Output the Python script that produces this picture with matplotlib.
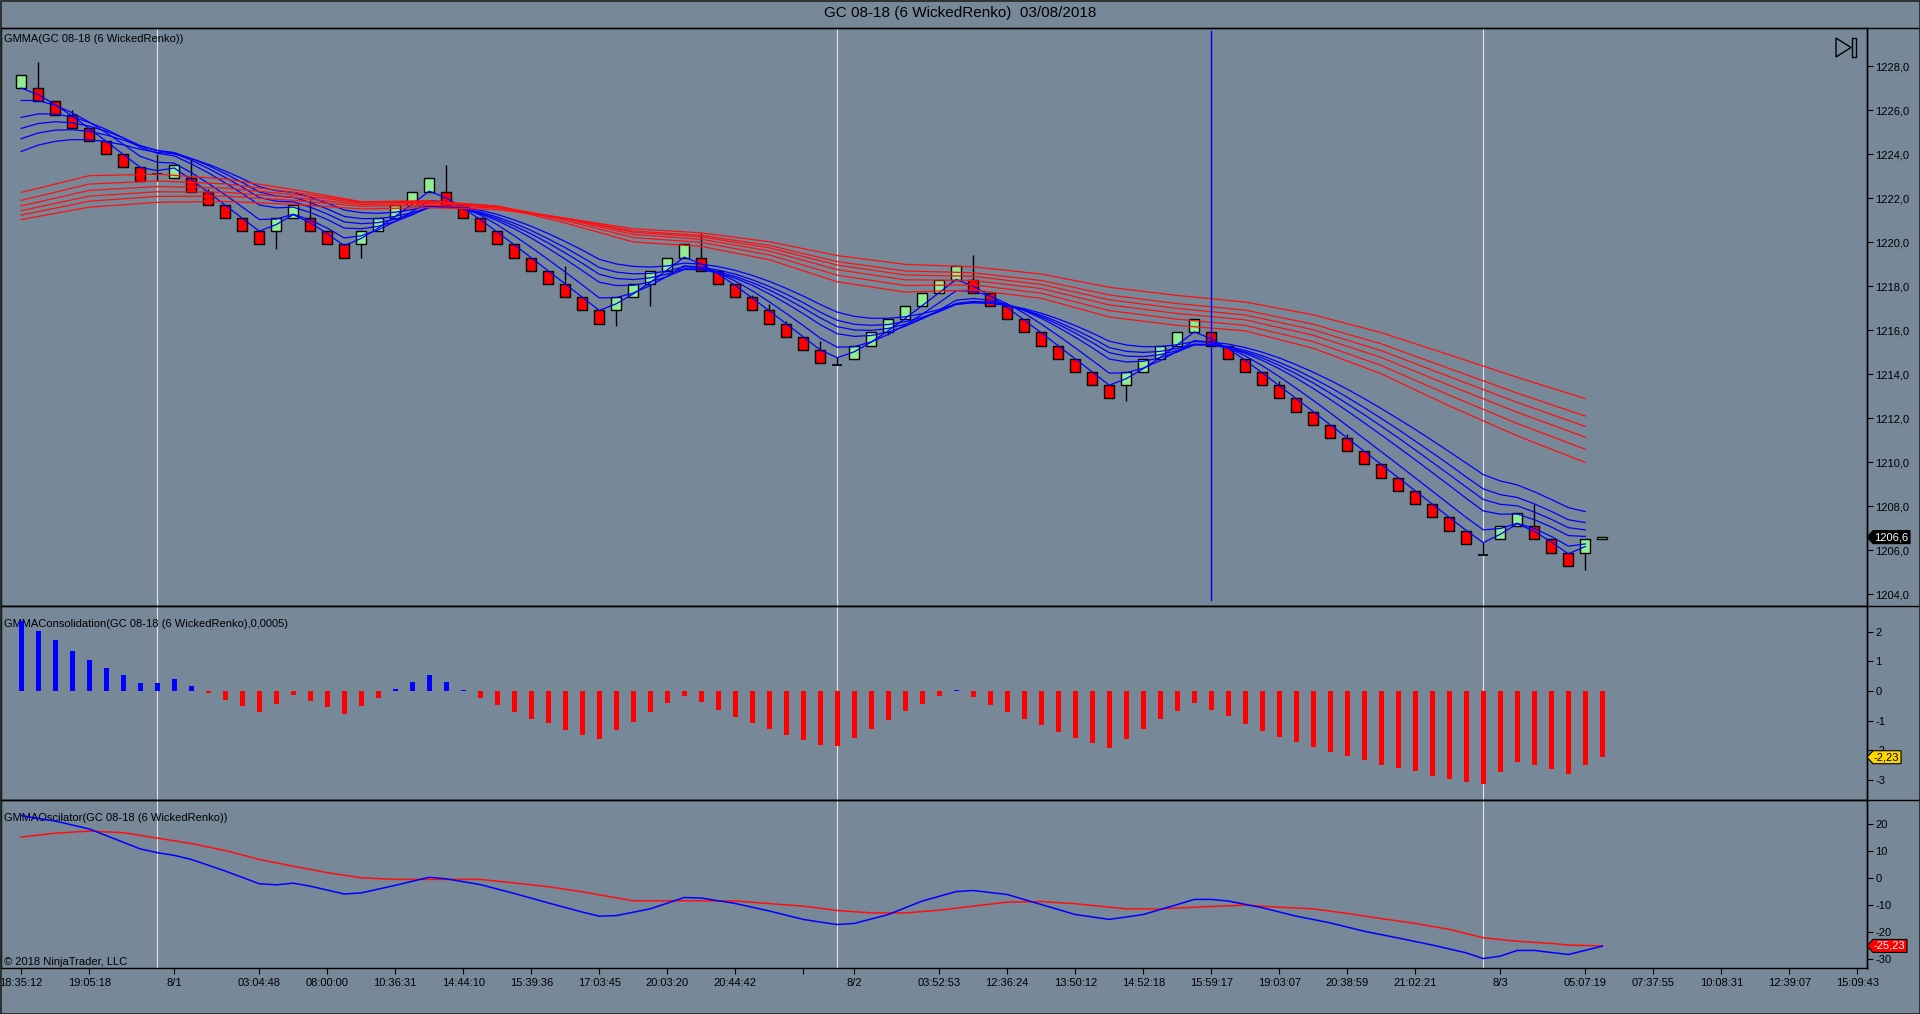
import matplotlib
matplotlib.use('Agg')
import matplotlib.pyplot as plt
from matplotlib.patches import Polygon
from matplotlib.lines import Line2D
from matplotlib.transforms import IdentityTransform
import numpy as np

plt.rcParams['font.family'] = ['Liberation Sans', 'DejaVu Sans']

# ---- renko bricks (bar index 0..93, 93 = forming bar) ----
opens = [
    1227.0, 1227.0, 1226.4, 1225.8, 1225.2, 1224.6, 1224.0, 1223.4, 1223.1, 1222.9,
    1222.9, 1222.3, 1221.7, 1221.1, 1220.5, 1220.5, 1221.1, 1221.1, 1220.5, 1219.9,
    1219.9, 1220.5, 1221.1, 1221.7, 1222.3, 1222.3, 1221.7, 1221.1, 1220.5, 1219.9,
    1219.3, 1218.7, 1218.1, 1217.5, 1216.9, 1216.9, 1217.5, 1218.1, 1218.7, 1219.3,
    1219.3, 1218.7, 1218.1, 1217.5, 1216.9, 1216.3, 1215.7, 1215.1, 1214.4, 1214.7,
    1215.3, 1215.9, 1216.5, 1217.1, 1217.7, 1218.3, 1218.3, 1217.7, 1217.1, 1216.5,
    1215.9, 1215.3, 1214.7, 1214.1, 1213.5, 1213.5, 1214.1, 1214.7, 1215.3, 1215.9,
    1215.9, 1215.3, 1214.7, 1214.1, 1213.5, 1212.9, 1212.3, 1211.7, 1211.1, 1210.5,
    1209.9, 1209.3, 1208.7, 1208.1, 1207.5, 1206.9, 1205.8, 1206.5, 1207.1, 1207.1,
    1206.5, 1205.9, 1205.9, 1206.5]
closes = [
    1227.6, 1226.4, 1225.8, 1225.2, 1224.6, 1224.0, 1223.4, 1222.8, 1223.1, 1223.5,
    1222.3, 1221.7, 1221.1, 1220.5, 1219.9, 1221.1, 1221.7, 1220.5, 1219.9, 1219.3,
    1220.5, 1221.1, 1221.7, 1222.3, 1222.9, 1221.7, 1221.1, 1220.5, 1219.9, 1219.3,
    1218.7, 1218.1, 1217.5, 1216.9, 1216.3, 1217.5, 1218.1, 1218.7, 1219.3, 1219.9,
    1218.7, 1218.1, 1217.5, 1216.9, 1216.3, 1215.7, 1215.1, 1214.5, 1214.4, 1215.3,
    1215.9, 1216.5, 1217.1, 1217.7, 1218.3, 1218.9, 1217.7, 1217.1, 1216.5, 1215.9,
    1215.3, 1214.7, 1214.1, 1213.5, 1212.9, 1214.1, 1214.7, 1215.3, 1215.9, 1216.5,
    1215.3, 1214.7, 1214.1, 1213.5, 1212.9, 1212.3, 1211.7, 1211.1, 1210.5, 1209.9,
    1209.3, 1208.7, 1208.1, 1207.5, 1206.9, 1206.3, 1205.8, 1207.1, 1207.7, 1206.5,
    1205.9, 1205.3, 1206.5, 1206.6]
highs = [
    1227.6, 1228.2, 1226.4, 1226.0, 1225.2, 1224.6, 1224.0, 1223.4, 1224.0, 1223.5,
    1223.8, 1222.4, 1221.7, 1221.1, 1220.5, 1221.1, 1221.7, 1221.9, 1220.5, 1219.9,
    1220.5, 1221.1, 1221.7, 1222.3, 1222.9, 1223.5, 1221.7, 1221.1, 1220.5, 1219.9,
    1219.3, 1218.7, 1218.9, 1217.5, 1216.9, 1217.5, 1218.1, 1218.7, 1219.3, 1219.9,
    1220.4, 1218.7, 1218.1, 1217.6, 1217.2, 1216.4, 1215.7, 1215.5, 1214.8, 1215.3,
    1215.9, 1216.5, 1217.1, 1217.7, 1218.3, 1218.9, 1219.4, 1217.7, 1217.1, 1216.5,
    1215.9, 1215.3, 1214.7, 1214.1, 1213.5, 1214.1, 1214.7, 1215.3, 1215.9, 1216.5,
    1215.9, 1215.3, 1214.7, 1214.1, 1213.7, 1212.9, 1212.3, 1211.7, 1211.3, 1210.5,
    1209.9, 1209.3, 1208.7, 1208.1, 1207.5, 1206.9, 1206.4, 1207.1, 1207.7, 1208.1,
    1206.5, 1205.9, 1206.5, 1206.6]
lows = [
    1227.0, 1226.4, 1225.8, 1225.2, 1224.6, 1224.0, 1223.4, 1222.8, 1222.8, 1222.9,
    1222.3, 1221.7, 1221.1, 1220.5, 1219.9, 1219.7, 1221.1, 1220.5, 1219.9, 1219.3,
    1219.3, 1220.5, 1221.1, 1221.7, 1222.3, 1221.7, 1221.1, 1220.5, 1219.9, 1219.3,
    1218.7, 1218.1, 1217.5, 1216.9, 1216.3, 1216.2, 1217.5, 1217.1, 1218.7, 1219.3,
    1218.7, 1218.1, 1217.5, 1216.9, 1216.3, 1215.7, 1215.1, 1214.5, 1214.4, 1214.7,
    1215.3, 1215.8, 1216.5, 1217.1, 1217.7, 1218.3, 1217.7, 1217.1, 1216.5, 1215.9,
    1215.3, 1214.7, 1214.1, 1213.5, 1212.9, 1212.8, 1214.1, 1214.7, 1215.3, 1215.9,
    1215.3, 1214.7, 1214.1, 1213.5, 1212.9, 1212.3, 1211.7, 1211.1, 1210.5, 1209.9,
    1209.3, 1208.7, 1208.1, 1207.5, 1206.9, 1206.3, 1205.8, 1206.5, 1207.1, 1206.5,
    1205.9, 1205.3, 1205.1, 1206.5]

# ---- GMMA short group (blue), one value per closed bar 0..92 ----
ema3 = [
    1227.00, 1226.70, 1226.25, 1225.73, 1225.16, 1224.58, 1223.99, 1223.40, 1223.25, 1223.37,
    1222.84, 1222.27, 1221.68, 1221.09, 1220.50, 1220.80, 1221.25, 1220.88, 1220.39, 1219.84,
    1220.17, 1220.64, 1221.17, 1221.73, 1222.32, 1222.01, 1221.55, 1221.03, 1220.46, 1219.88,
    1219.29, 1218.70, 1218.10, 1217.50, 1216.90, 1217.20, 1217.65, 1218.17, 1218.74, 1219.32,
    1219.01, 1218.56, 1218.03, 1217.46, 1216.88, 1216.29, 1215.70, 1215.10, 1214.75, 1215.02,
    1215.46, 1215.98, 1216.54, 1217.12, 1217.71, 1218.31, 1218.00, 1217.55, 1217.03, 1216.46,
    1215.88, 1215.29, 1214.70, 1214.10, 1213.50, 1213.80, 1214.25, 1214.77, 1215.34, 1215.92,
    1215.61, 1215.16, 1214.63, 1214.06, 1213.48, 1212.89, 1212.30, 1211.70, 1211.10, 1210.50,
    1209.90, 1209.30, 1208.70, 1208.10, 1207.50, 1206.90, 1206.35, 1206.73, 1207.21, 1206.86,
    1206.38, 1205.84, 1206.17]
ema5 = [
    1226.44, 1226.43, 1226.22, 1225.88, 1225.45, 1224.97, 1224.45, 1223.90, 1223.63, 1223.59,
    1223.16, 1222.67, 1222.15, 1221.60, 1221.03, 1221.05, 1221.27, 1221.01, 1220.64, 1220.19,
    1220.29, 1220.56, 1220.94, 1221.39, 1221.89, 1221.83, 1221.59, 1221.23, 1220.79, 1220.29,
    1219.76, 1219.21, 1218.64, 1218.06, 1217.47, 1217.48, 1217.69, 1218.03, 1218.45, 1218.93,
    1218.85, 1218.60, 1218.23, 1217.79, 1217.29, 1216.76, 1216.21, 1215.64, 1215.23, 1215.25,
    1215.47, 1215.81, 1216.24, 1216.73, 1217.25, 1217.80, 1217.77, 1217.55, 1217.20, 1216.77,
    1216.28, 1215.75, 1215.20, 1214.63, 1214.05, 1214.07, 1214.28, 1214.62, 1215.05, 1215.53,
    1215.45, 1215.20, 1214.83, 1214.39, 1213.89, 1213.36, 1212.81, 1212.24, 1211.66, 1211.07,
    1210.48, 1209.89, 1209.29, 1208.69, 1208.09, 1207.49, 1206.93, 1206.99, 1207.23, 1206.99,
    1206.63, 1206.19, 1206.29]
ema8 = [
    1225.67, 1225.83, 1225.82, 1225.69, 1225.44, 1225.12, 1224.74, 1224.31, 1224.04, 1223.92,
    1223.56, 1223.15, 1222.69, 1222.21, 1221.69, 1221.56, 1221.59, 1221.35, 1221.03, 1220.64,
    1220.61, 1220.72, 1220.94, 1221.24, 1221.61, 1221.63, 1221.51, 1221.29, 1220.98, 1220.61,
    1220.19, 1219.72, 1219.23, 1218.71, 1218.18, 1218.03, 1218.04, 1218.19, 1218.44, 1218.76,
    1218.75, 1218.60, 1218.36, 1218.04, 1217.65, 1217.22, 1216.75, 1216.25, 1215.84, 1215.72,
    1215.76, 1215.92, 1216.18, 1216.52, 1216.92, 1217.36, 1217.44, 1217.36, 1217.17, 1216.89,
    1216.54, 1216.13, 1215.68, 1215.20, 1214.69, 1214.56, 1214.59, 1214.75, 1215.01, 1215.34,
    1215.33, 1215.19, 1214.95, 1214.63, 1214.25, 1213.82, 1213.35, 1212.85, 1212.33, 1211.79,
    1211.24, 1210.68, 1210.11, 1209.53, 1208.95, 1208.36, 1207.79, 1207.64, 1207.65, 1207.39,
    1207.06, 1206.67, 1206.63]
ema10 = [
    1225.17, 1225.39, 1225.47, 1225.42, 1225.27, 1225.04, 1224.74, 1224.39, 1224.16, 1224.04,
    1223.72, 1223.35, 1222.94, 1222.50, 1222.03, 1221.86, 1221.83, 1221.59, 1221.28, 1220.92,
    1220.84, 1220.89, 1221.04, 1221.27, 1221.57, 1221.59, 1221.50, 1221.32, 1221.06, 1220.74,
    1220.37, 1219.96, 1219.51, 1219.04, 1218.54, 1218.35, 1218.30, 1218.38, 1218.55, 1218.79,
    1218.78, 1218.65, 1218.44, 1218.16, 1217.83, 1217.44, 1217.01, 1216.56, 1216.16, 1216.01,
    1215.99, 1216.08, 1216.27, 1216.53, 1216.85, 1217.22, 1217.31, 1217.27, 1217.13, 1216.91,
    1216.61, 1216.27, 1215.87, 1215.44, 1214.98, 1214.82, 1214.80, 1214.89, 1215.07, 1215.33,
    1215.33, 1215.21, 1215.01, 1214.74, 1214.40, 1214.02, 1213.60, 1213.14, 1212.66, 1212.16,
    1211.64, 1211.11, 1210.56, 1210.00, 1209.44, 1208.87, 1208.31, 1208.09, 1208.02, 1207.74,
    1207.41, 1207.03, 1206.93]
ema12 = [
    1224.70, 1224.96, 1225.09, 1225.11, 1225.03, 1224.87, 1224.64, 1224.36, 1224.17, 1224.07,
    1223.80, 1223.48, 1223.11, 1222.71, 1222.28, 1222.10, 1222.04, 1221.80, 1221.51, 1221.17,
    1221.07, 1221.07, 1221.17, 1221.34, 1221.58, 1221.60, 1221.52, 1221.37, 1221.14, 1220.86,
    1220.53, 1220.15, 1219.75, 1219.31, 1218.85, 1218.64, 1218.56, 1218.58, 1218.69, 1218.88,
    1218.85, 1218.73, 1218.55, 1218.29, 1217.99, 1217.64, 1217.25, 1216.82, 1216.45, 1216.27,
    1216.22, 1216.26, 1216.39, 1216.59, 1216.85, 1217.17, 1217.25, 1217.23, 1217.11, 1216.93,
    1216.68, 1216.37, 1216.02, 1215.64, 1215.21, 1215.04, 1214.99, 1215.04, 1215.17, 1215.37,
    1215.36, 1215.26, 1215.08, 1214.84, 1214.54, 1214.20, 1213.81, 1213.40, 1212.95, 1212.48,
    1211.99, 1211.49, 1210.96, 1210.43, 1209.89, 1209.33, 1208.79, 1208.53, 1208.40, 1208.11,
    1207.77, 1207.39, 1207.26]
ema15 = [
    1224.12, 1224.41, 1224.58, 1224.66, 1224.65, 1224.57, 1224.42, 1224.22, 1224.08, 1224.01,
    1223.80, 1223.54, 1223.23, 1222.89, 1222.52, 1222.34, 1222.26, 1222.04, 1221.77, 1221.46,
    1221.34, 1221.31, 1221.36, 1221.48, 1221.66, 1221.66, 1221.59, 1221.45, 1221.26, 1221.01,
    1220.72, 1220.39, 1220.03, 1219.64, 1219.22, 1219.01, 1218.90, 1218.87, 1218.92, 1219.05,
    1219.00, 1218.89, 1218.72, 1218.49, 1218.22, 1217.90, 1217.55, 1217.17, 1216.82, 1216.63,
    1216.54, 1216.54, 1216.61, 1216.75, 1216.94, 1217.19, 1217.25, 1217.23, 1217.14, 1216.98,
    1216.77, 1216.51, 1216.21, 1215.87, 1215.50, 1215.33, 1215.25, 1215.26, 1215.34, 1215.48,
    1215.46, 1215.37, 1215.21, 1215.00, 1214.74, 1214.43, 1214.09, 1213.72, 1213.32, 1212.89,
    1212.44, 1211.97, 1211.49, 1210.99, 1210.48, 1209.96, 1209.44, 1209.15, 1208.97, 1208.66,
    1208.31, 1207.94, 1207.76]

# ---- GMMA long group (red), read every 4 bars ----
long_bars = [0, 4, 8, 12, 16, 20, 24, 28, 32, 36, 40, 44, 48, 52, 56, 60, 64, 68, 72, 76, 80, 84, 88, 92]
ema30 = [1222.26, 1223.02, 1223.09, 1222.87, 1222.39, 1221.84, 1221.88, 1221.63, 1220.87, 1220.01, 1219.81, 1219.20,
         1218.20, 1217.73, 1217.83, 1217.45, 1216.60, 1216.22, 1215.97, 1215.18, 1214.02, 1212.56, 1211.20, 1209.99]
ema35 = [1221.90, 1222.64, 1222.78, 1222.65, 1222.27, 1221.82, 1221.86, 1221.64, 1220.98, 1220.21, 1219.99, 1219.42,
         1218.50, 1218.03, 1218.06, 1217.68, 1216.89, 1216.50, 1216.22, 1215.48, 1214.40, 1213.05, 1211.76, 1210.59]
ema40 = [1221.65, 1222.35, 1222.53, 1222.46, 1222.16, 1221.78, 1221.82, 1221.63, 1221.05, 1220.35, 1220.13, 1219.60,
         1218.75, 1218.29, 1218.26, 1217.89, 1217.15, 1216.76, 1216.47, 1215.77, 1214.76, 1213.50, 1212.27, 1211.14]
ema45 = [1221.43, 1222.09, 1222.29, 1222.27, 1222.03, 1221.71, 1221.76, 1221.60, 1221.08, 1220.45, 1220.24, 1219.74,
         1218.96, 1218.51, 1218.45, 1218.08, 1217.38, 1216.99, 1216.69, 1216.02, 1215.07, 1213.89, 1212.72, 1211.63]
ema50 = [1221.23, 1221.86, 1222.08, 1222.09, 1221.90, 1221.63, 1221.68, 1221.55, 1221.09, 1220.51, 1220.31, 1219.85,
         1219.12, 1218.69, 1218.61, 1218.26, 1217.60, 1217.21, 1216.91, 1216.27, 1215.38, 1214.26, 1213.14, 1212.10]
ema60 = [1221.03, 1221.59, 1221.81, 1221.85, 1221.72, 1221.51, 1221.57, 1221.48, 1221.09, 1220.61, 1220.42, 1220.02,
         1219.39, 1218.99, 1218.88, 1218.55, 1217.95, 1217.58, 1217.28, 1216.70, 1215.89, 1214.88, 1213.86, 1212.89]

# ---- GMMAConsolidation histogram, bars 0..93 ----
consolidation = [
    2.35, 2.02, 1.70, 1.35, 1.04, 0.77, 0.54, 0.27, 0.26, 0.40,
    0.18, -0.08, -0.30, -0.51, -0.71, -0.44, -0.15, -0.34, -0.54, -0.76,
    -0.51, -0.22, 0.07, 0.30, 0.55, 0.30, 0.02, -0.24, -0.48, -0.71,
    -0.93, -1.09, -1.31, -1.47, -1.63, -1.33, -1.03, -0.71, -0.42, -0.17,
    -0.37, -0.65, -0.89, -1.09, -1.29, -1.48, -1.66, -1.83, -1.86, -1.59,
    -1.29, -0.99, -0.69, -0.44, -0.18, 0.02, -0.20, -0.48, -0.72, -0.95,
    -1.16, -1.37, -1.57, -1.74, -1.91, -1.61, -1.27, -0.95, -0.69, -0.42,
    -0.63, -0.84, -1.10, -1.34, -1.54, -1.71, -1.88, -2.04, -2.19, -2.31,
    -2.48, -2.58, -2.71, -2.86, -2.95, -3.05, -3.14, -2.74, -2.39, -2.49,
    -2.64, -2.79, -2.48, -2.23]

# ---- GMMAOscilator lines ----
osc_blue_bars = [0, 2, 4, 7, 8, 9, 10, 12, 14, 15, 16, 17, 19, 20, 22, 24, 25, 27, 29, 31, 33, 34, 35, 37,
                 39, 40, 42, 44, 46, 47, 48, 49, 51, 53, 55, 56, 58, 60, 62, 64, 66, 68, 69, 70, 71, 73,
                 75, 77, 79, 81, 83, 85, 86, 87, 88, 89, 91, 93]
osc_blue = [23.0, 21.0, 18.1, 10.7, 9.3, 8.3, 6.8, 2.5, -2.2, -2.6, -2.0, -3.1, -6.0, -5.6, -2.8, 0.2, -0.4, -2.5,
            -5.8, -9.3, -12.7, -14.2, -14.0, -11.5, -7.3, -7.5, -9.5, -12.3, -15.4, -16.4, -17.3, -16.9, -13.6,
            -8.6, -5.1, -4.7, -6.2, -9.9, -13.6, -15.4, -13.6, -9.9, -8.0, -8.0, -8.6, -11.1, -14.2, -16.7,
            -19.8, -22.3, -24.9, -27.8, -29.9, -29.0, -26.9, -26.9, -28.4, -25.3]
osc_red_bars = [0, 2, 4, 6, 8, 10, 12, 14, 16, 18, 20, 22, 24, 27, 29, 31, 33, 36, 39, 42, 46, 48, 50, 52, 54,
                56, 58, 60, 62, 65, 67, 69, 72, 74, 76, 78, 80, 82, 84, 86, 88, 90, 91, 93]
osc_red = [15.1, 16.5, 17.3, 16.7, 14.7, 12.7, 10.1, 6.8, 4.3, 1.9, 0.0, -0.6, -0.6, -0.6, -1.9, -3.3, -5.2,
           -8.5, -8.5, -8.6, -10.5, -12.1, -13.0, -13.0, -12.0, -10.5, -9.0, -8.8, -9.6, -11.5, -11.5, -10.9,
           -10.1, -10.9, -11.5, -13.2, -15.1, -16.9, -19.1, -22.2, -23.5, -24.3, -24.9, -25.23]

# ---- axis labels ----
session_bars = [8, 48, 86]
line_bar = 70
xtick_bars = [0, 4, 9, 14, 18, 22, 26, 30, 34, 38, 42, 46, 49, 54, 58, 62, 66, 70, 74, 78, 82, 87, 92,
              96, 100, 104, 108]
xtick_labels = ['18:35:12', '19:05:18', '8/1', '03:04:48', '08:00:00', '10:36:31', '14:44:10', '15:39:36',
                '17:03:45', '20:03:20', '20:44:42', '', '8/2', '03:52:53', '12:36:24', '13:50:12', '14:52:18',
                '15:59:17', '19:03:07', '20:38:59', '21:02:21', '8/3', '05:07:19', '07:37:55', '10:08:31',
                '12:39:07', '15:09:43']
price_ticks = [1204, 1206, 1208, 1210, 1212, 1214, 1216, 1218, 1220, 1222, 1224, 1226, 1228]
cons_ticks = [2, 1, 0, -1, -2, -3]
osc_ticks = [20, 10, 0, -10, -20, -30]

W, H = 1920, 1014
BG = '#778899'
fig = plt.figure(figsize=(W / 100, H / 100), dpi=100, facecolor=BG)


def panel(top, bottom):
    a = fig.add_axes([1 / W, 1 - bottom / H, 1866 / W, (bottom - top) / H])
    a.set_facecolor(BG)
    a.set_xlim(-1.19, 108.57)
    for s in a.spines.values():
        s.set_color('black')
        s.set_linewidth(1)
    a.yaxis.tick_right()
    a.tick_params(axis='y', direction='out', length=4, pad=2, labelsize=8, colors='black')
    return a


ax1 = panel(28, 606)
ax2 = panel(606, 800)
ax3 = panel(800, 968)
ax1.set_ylim(1203.47, 1229.73)
ax2.set_ylim(-3.67, 2.86)
ax3.set_ylim(-33.4, 28.8)

# main price panel
bars = np.arange(len(opens))
o = np.array(opens)
c = np.array(closes)
ax1.vlines(bars, lows, highs, color='black', lw=1, zorder=2)
body = o != c
cols = np.where(c > o, '#90EE90', '#FF0000')
ax1.bar(bars[body], (c - o)[body], bottom=o[body], width=0.6, color=cols[body],
        edgecolor='black', linewidth=1, zorder=3)
doji = ~body
ax1.hlines(o[doji], bars[doji] - 0.3, bars[doji] + 0.3, color='black', lw=1.2, zorder=3)

closed = np.arange(len(ema3))
for e in [ema3, ema5, ema8, ema10, ema12, ema15]:
    ax1.plot(closed, e, color='#0000FF', lw=0.9, zorder=4)
for e in [ema30, ema35, ema40, ema45, ema50, ema60]:
    ax1.plot(long_bars, e, color='#FF1010', lw=0.9, zorder=4)

ax1.axvline(line_bar, ymin=0.01, ymax=0.995, color='#0000FF', lw=1, zorder=5)
ax1.set_yticks(price_ticks)
ax1.set_yticklabels([f'{v:.1f}'.replace('.', ',') for v in price_ticks])
ax1.set_xticks([])
ax1.text(3 / 1866, 1 - 11 / 578, 'GMMA(GC 08-18 (6 WickedRenko))', transform=ax1.transAxes,
         fontsize=8, va='center', ha='left')

# consolidation panel
cv = np.array(consolidation)
ax2.bar(np.arange(len(cv)), cv, width=0.3, color=np.where(cv > 0, '#0000FF', '#FF0000'), zorder=3)
ax2.set_yticks(cons_ticks)
ax2.set_yticklabels([str(v) for v in cons_ticks])
ax2.set_xticks([])
ax2.text(3 / 1866, 1 - 18 / 194, 'GMMAConsolidation(GC 08-18 (6 WickedRenko),0,0005)',
         transform=ax2.transAxes, fontsize=8, va='center', ha='left', zorder=2)

# oscillator panel
ax3.plot(osc_red_bars, osc_red, color='#FF1010', lw=1.1, zorder=3)
ax3.plot(osc_blue_bars, osc_blue, color='#0000FF', lw=1.1, zorder=4)
ax3.set_yticks(osc_ticks)
ax3.set_yticklabels([str(v) for v in osc_ticks])
ax3.set_xticks(xtick_bars)
ax3.set_xticklabels(xtick_labels)
ax3.tick_params(axis='x', direction='out', length=4, pad=3, labelsize=8, colors='black')
ax3.text(3 / 1866, 1 - 18 / 168, 'GMMAOscilator(GC 08-18 (6 WickedRenko))', transform=ax3.transAxes,
         fontsize=8, va='center', ha='left')
ax3.text(3 / 1866, 6 / 168, '\u00a9 2018 NinjaTrader, LLC', transform=ax3.transAxes,
         fontsize=8, va='center', ha='left')

for a in (ax1, ax2, ax3):
    for b in session_bars:
        a.axvline(b, color='#E6E6E6', lw=0.8, zorder=1)

# frame lines across the whole width
for y in (28, 606, 800):
    fig.add_artist(Line2D([0, 1], [1 - y / H] * 2, color='black', lw=1, transform=fig.transFigure))
fig.add_artist(Line2D([1867 / W] * 2, [1 - 28 / H, 1 - 968 / H], color='black', lw=1, transform=fig.transFigure))
fig.add_artist(Line2D([0.5 / W, 1 - 0.5 / W, 1 - 0.5 / W, 0.5 / W, 0.5 / W],
                      [0.5 / H, 0.5 / H, 1 - 0.5 / H, 1 - 0.5 / H, 0.5 / H],
                      color='#222222', lw=1.2, transform=fig.transFigure))

fig.text(0.5, 1 - 13 / H, 'GC 08-18 (6 WickedRenko)  03/08/2018', ha='center', va='center', fontsize=11)


def price_marker(ax, val, label, fc, tc, w):
    yd = ax.transData.transform((0, val))[1]
    x0 = 1867
    h = 6.5
    verts = [(x0, yd), (x0 + 6, yd + h), (x0 + w, yd + h), (x0 + w, yd - h), (x0 + 6, yd - h)]
    fig.add_artist(Polygon(verts, closed=True, fc=fc, ec='black', lw=0.8,
                           transform=IdentityTransform(), zorder=10))
    fig.text(x0 + 7, yd, label, color=tc, fontsize=8, va='center', ha='left',
             transform=IdentityTransform(), zorder=11)


price_marker(ax1, closes[-1], f'{closes[-1]:.1f}'.replace('.', ','), 'black', 'white', 43)
price_marker(ax2, consolidation[-1], f'{consolidation[-1]:.2f}'.replace('.', ','), '#FFD700', 'black', 34)
price_marker(ax3, osc_red[-1], f'{osc_red[-1]:.2f}'.replace('.', ','), '#FF0000', 'white', 40)

# "go to last bar" button in the top right corner
tri = [(1836, H - 38), (1836, H - 57), (1851, H - 47.5)]
fig.add_artist(Polygon(tri, closed=True, fill=False, ec='black', lw=1, transform=IdentityTransform()))
fig.add_artist(Polygon([(1852, H - 38), (1856, H - 38), (1856, H - 57), (1852, H - 57)], closed=True,
                       fill=False, ec='black', lw=1, transform=IdentityTransform()))

fig.savefig('out.png', dpi=100, facecolor=BG)
